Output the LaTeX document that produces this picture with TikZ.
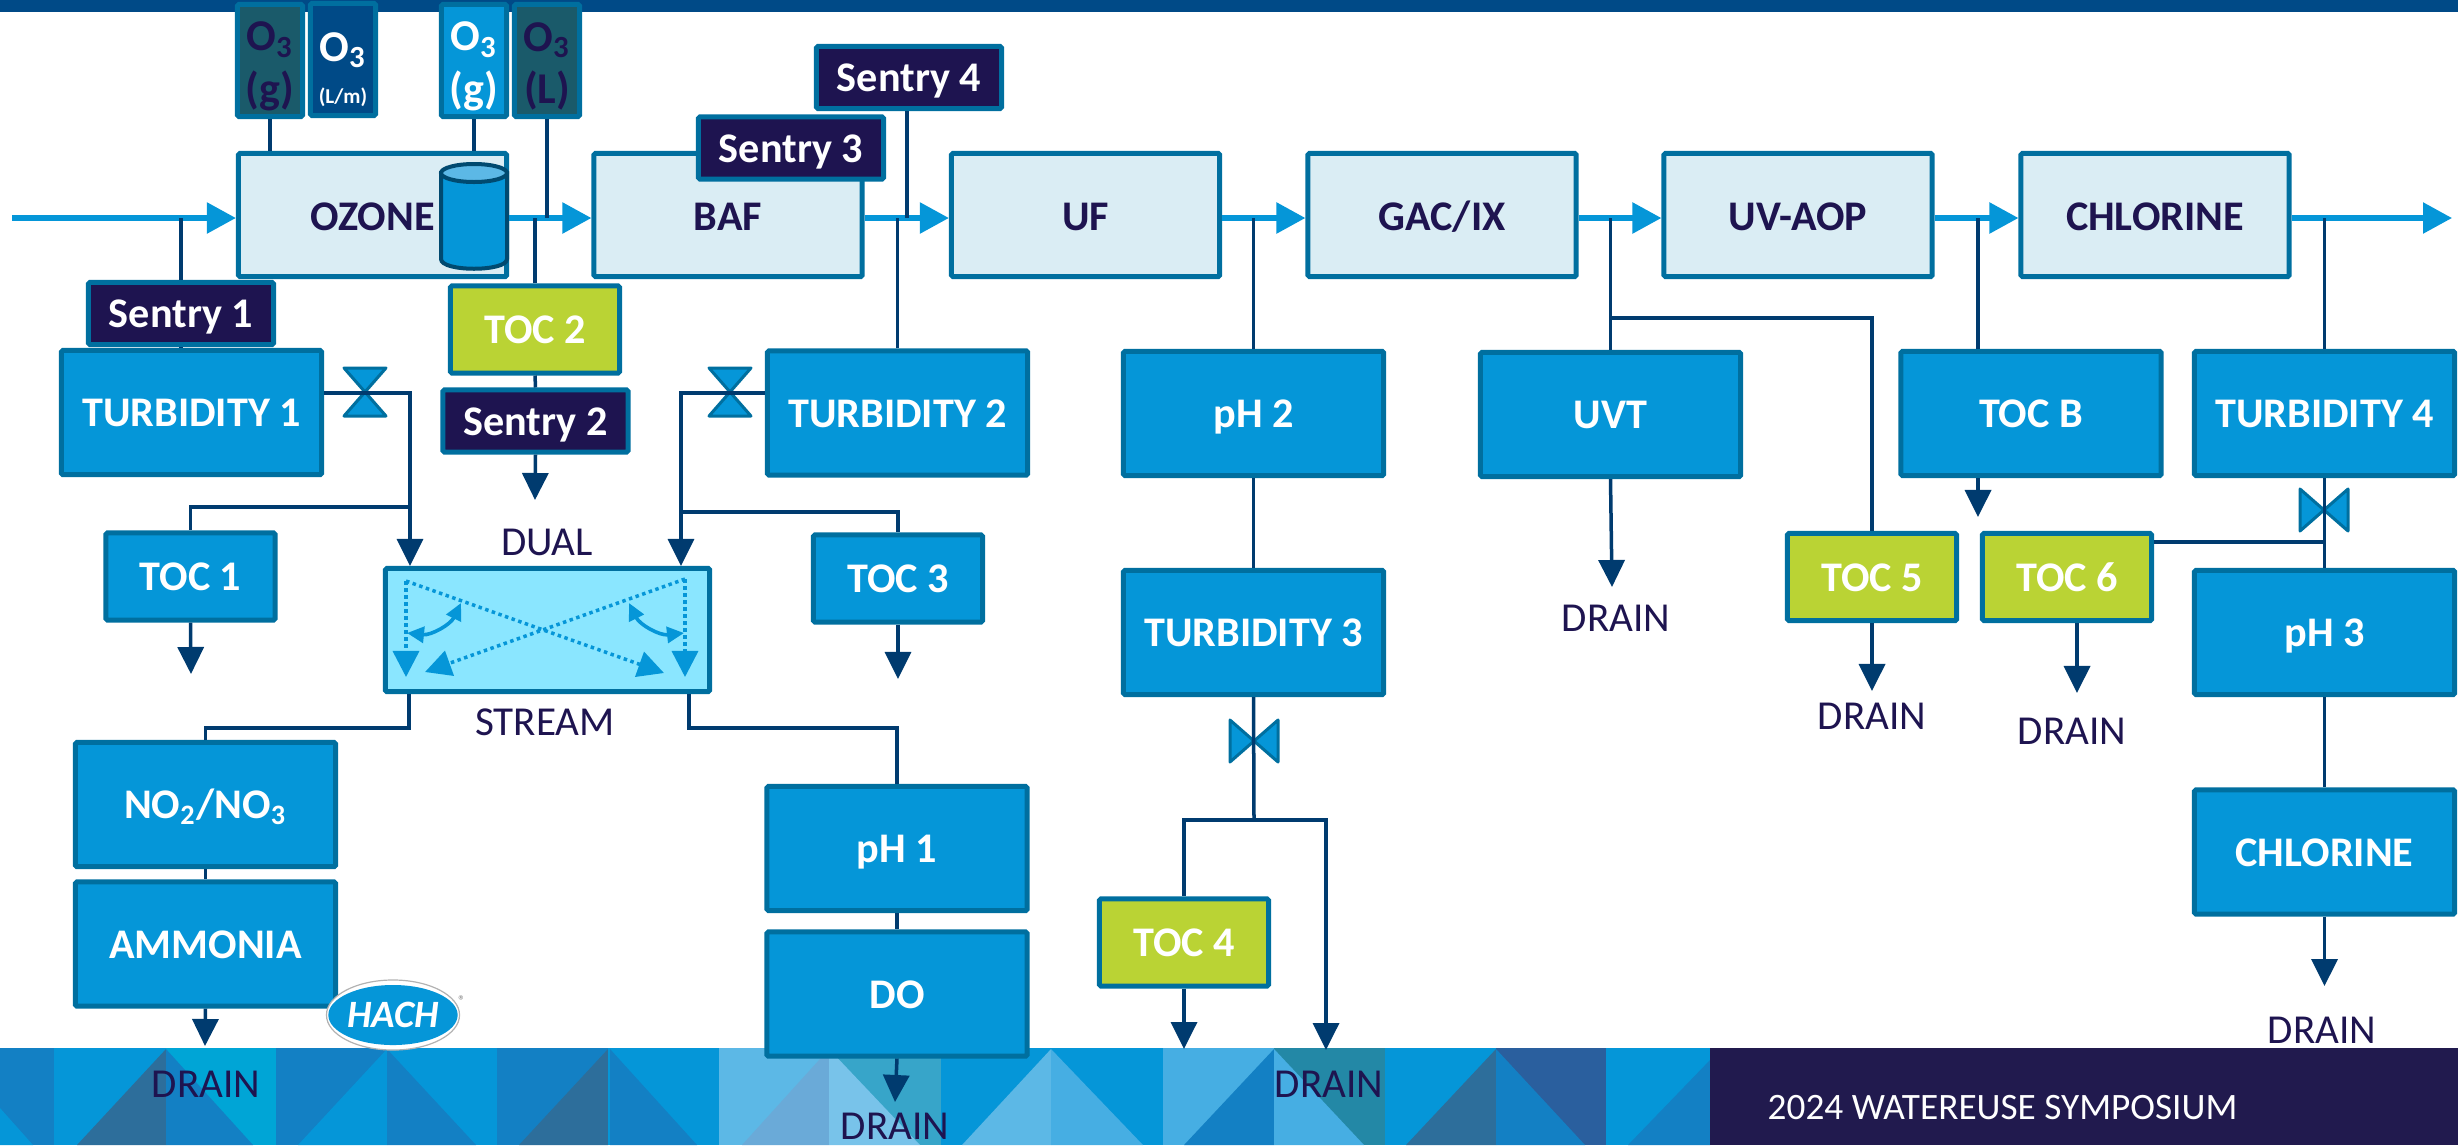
\documentclass[tikz,border=0pt]{standalone}
\usepackage{fontspec}
\setmainfont{Carlito}
\usetikzlibrary{arrows.meta,shapes.geometric}

\definecolor{navy}{HTML}{1E1450}
\definecolor{frame}{HTML}{006F9F}
\definecolor{pipeblue}{HTML}{003B6F}
\definecolor{cyanblue}{HTML}{0596D8}
\definecolor{paleblue}{HTML}{DAEDF4}
\definecolor{skyblue}{HTML}{8AE6FF}
\definecolor{lime}{HTML}{BAD334}
\definecolor{darkteal}{HTML}{1A5A6A}
\definecolor{bandblue}{HTML}{004A87}
\definecolor{midblue}{HTML}{1380C4}
\definecolor{slate}{HTML}{2D6E9B}
\definecolor{aqua}{HTML}{00A5D6}
\definecolor{lightblue}{HTML}{5CB8E6}
\definecolor{hazeblue}{HTML}{6AAAD8}
\definecolor{tealmid}{HTML}{37A5C9}
\definecolor{iceblue}{HTML}{78C3EA}
\definecolor{softblue}{HTML}{46AEE3}
\definecolor{deepteal}{HTML}{2388A6}
\definecolor{steel}{HTML}{2A5F9E}
\definecolor{footerdark}{HTML}{211A4E}
\definecolor{tankline}{HTML}{004A70}

\newcommand{\othree}[1]{\rule{0pt}{11.6pt}O\textsubscript{3}\\#1}

\tikzset{
  anybox/.style={draw=frame, line width=0.05cm, rounded corners=0.4pt, inner sep=0pt, align=center, font=\fontsize{12}{14}\selectfont\bfseries},
  stagebox/.style={anybox, fill=paleblue, text=navy, minimum width=2.68cm, minimum height=1.23cm, text height=8.9pt, text depth=0pt},
  ctrlbox/.style={anybox, fill=cyanblue, text=white, minimum width=2.60cm, minimum height=1.24cm, text height=8pt, text depth=0pt},
  tocbox/.style={ctrlbox, minimum width=1.69cm, minimum height=0.87cm},
  limebox/.style={tocbox, fill=lime},
  sentrybox/.style={anybox, fill=navy, text=white, minimum width=1.85cm, minimum height=0.62cm, text height=8pt, text depth=0pt},
  probebox/.style={anybox, minimum width=0.65cm, minimum height=1.12cm, font=\fontsize{12.5}{15}\selectfont\bfseries},
  label/.style={text=navy, inner sep=0pt, font=\fontsize{11.7}{14}\selectfont},
  pipe/.style={draw=pipeblue, line width=0.035cm},
  pipeend/.style={pipe, -{Triangle[length=0.27cm,width=0.26cm]}},
  flow/.style={draw=cyanblue, line width=0.055cm, -{Triangle[length=0.29cm,width=0.30cm]}},
  dots/.style={draw=cyanblue, line width=0.035cm, dash pattern=on 0.035cm off 0.035cm, -{Triangle[length=0.26cm,width=0.26cm]}},
  swing/.style={draw=cyanblue, line width=0.036cm, {Triangle[length=0.17cm,width=0.16cm]}-{Triangle[length=0.17cm,width=0.16cm]}},
  valve/.pic={\draw[fill=cyanblue, draw=frame, line width=0.03cm, line join=round] (-21,-24) -- (21,-24) -- (-21,24) -- (21,24) -- cycle;}
}

\begin{document}
\begin{tikzpicture}[x=0.01cm, y=-0.01cm]
  \useasboundingbox (0,0) rectangle (2458,1145);
  % footer strip
  \foreach \xa/\xb/\base/\tri/\ax/\bx/\ay in {0/54/midblue/cyanblue/0/33/1108, 54/166/cyanblue/slate/166/77/1049, 166/276/aqua/midblue/166/253/1049, 276/387/midblue/cyanblue/387/298/1049, 387/497/cyanblue/midblue/387/476/1049, 497/608/midblue/slate/608/519/1049, 608/719/cyanblue/midblue/610/697/1049, 719/829/lightblue/hazeblue/829/742/1049, 829/941/tealmid/iceblue/829/920/1049, 941/1051/cyanblue/lightblue/1051/962/1049, 1051/1163/cyanblue/softblue/1051/1143/1049, 1163/1274/softblue/midblue/1274/1184/1049, 1274/1385/deepteal/softblue/1274/1364/1049, 1385/1496/cyanblue/slate/1496/1406/1049, 1496/1606/steel/midblue/1496/1585/1049, 1606/1710/cyanblue/midblue/1710/1628/1060} {
    \fill[\base] (\xa,1048) rectangle (\xb,1145);
    \fill[\tri] (\ax,\ay) -- (\bx,1145) -- (\ax,1145) -- cycle;
  }
  \fill[footerdark] (1710,1048) rectangle (2458,1145);
  \fill[bandblue] (0,0) rectangle (2458,12);
  \node[text=white, inner sep=0pt, anchor=west, font=\fontsize{10.6}{13}\selectfont] (symposium) at (1767,1108) {2024 WATEREUSE SYMPOSIUM};

  % valves under the pipes
  \pic at (365,392) {valve};
  \pic at (730,392) {valve};
  \pic[rotate=90] at (1254,741) {valve};
  \pic[rotate=90] at (2324,510) {valve};
  \coordinate (valvea) at (365,393);
  \coordinate (valveb) at (730,393);

  % process train
  \node[stagebox] (ozone) at (372.5,215) {OZONE};
  \node[stagebox] (baf) at (728,215) {BAF};
  \node[stagebox] (uf) at (1085.5,215) {UF};
  \node[stagebox] (gac) at (1442,215) {GAC/IX};
  \node[stagebox] (uvaop) at (1798,215) {UV-AOP};
  \node[stagebox] (chlor) at (2155,215) {CHLORINE};
  \draw[draw=tankline, fill=cyanblue, line width=0.04cm] (441,173) -- (441,259) .. controls (441,272) and (507,272) .. (507,259) -- (507,173) -- cycle;
  \draw[draw=tankline, fill=lightblue, line width=0.04cm] (474,173) ellipse [x radius=33, y radius=9];

  % ozone probes
  \node[probebox, fill=darkteal, text=navy] (gasa) at (270,60.5) {\othree{(g)}};
  \node[probebox, fill=bandblue, text=white] (flow) at (343,59.5) {\rule{0pt}{14pt}O\textsubscript{3}\\[-3pt]{\fontsize{6}{7}\selectfont (L/m)}};
  \node[probebox, fill=cyanblue, text=white] (gasb) at (474,60.5) {\othree{(g)}};
  \node[probebox, fill=darkteal, text=navy] (liq) at (547,60.5) {\othree{(L)}};

  % analyzers
  \node[sentrybox] (sentrya) at (181,313.5) {Sentry 1};
  \node[ctrlbox] (turba) at (191.5,412.5) {TURBIDITY 1};
  \node[limebox] (tocb2) at (535,329.5) {TOC 2};
  \node[sentrybox] (sentryb) at (535.5,421) {Sentry 2};
  \node[sentrybox] (sentryc) at (791,148) {Sentry 3};
  \node[sentrybox] (sentryd) at (909,77.5) {Sentry 4};
  \node[ctrlbox] (turbb) at (897.5,413) {TURBIDITY 2};
  \node[ctrlbox] (pha) at (1253.5,413.5) {pH 2};
  \node[ctrlbox] (turbc) at (1253.5,632.5) {TURBIDITY 3};
  \node[ctrlbox] (uvt) at (1610.5,414.5) {UVT};
  \node[ctrlbox] (tocb) at (2031,413.5) {TOC B};
  \node[ctrlbox] (turbd) at (2324.5,413.5) {TURBIDITY 4};
  \node[ctrlbox] (phc) at (2324.5,632.5) {pH 3};
  \node[ctrlbox] (chlorb) at (2324.5,852) {CHLORINE};
  \node[ctrlbox] (nox) at (205.5,804.5) {NO\textsubscript{2}/NO\textsubscript{3}};
  \node[ctrlbox] (ammonia) at (205.5,944) {AMMONIA};
  \node[ctrlbox] (phb) at (897,848.5) {pH 1};
  \node[ctrlbox] (dox) at (897,994) {DO};
  \node[tocbox] (toca) at (190.5,576.5) {TOC 1};
  \node[tocbox] (tocc) at (898,578.5) {TOC 3};
  \node[limebox] (tocd) at (1184,942.5) {TOC 4};
  \node[limebox] (toce) at (1872,577) {TOC 5};
  \node[limebox] (tocf) at (2067,577) {TOC 6};

  % dual stream cell
  \node[anybox, fill=skyblue, minimum width=3.24cm, minimum height=1.23cm] (dual) at (547.5,630) {};
  \coordinate (sl) at (406,581); \coordinate (sr) at (685,579);
  \coordinate (el) at (406,677); \coordinate (er) at (685,677);
  \coordinate (xl) at (425,672); \coordinate (xr) at (664,673);
  \coordinate (al) at (461,603); \coordinate (bl) at (407,633);
  \coordinate (ar) at (629,603); \coordinate (br) at (684,633);
  \draw[dots] (sl) -- (el);
  \draw[dots] (sr) -- (er);
  \draw[dots] (sl) -- (xr);
  \draw[dots] (sr) -- (xl);
  \draw[swing] (al) to[bend left=35] (bl);
  \draw[swing] (ar) to[bend right=35] (br);

  \node[label] (duallbl) at (547,542) {DUAL};
  \node[label] (streamlbl) at (545,722) {STREAM};
  \node[label] (draina) at (206,1084) {DRAIN};
  \node[label] (drainb) at (895,1126) {DRAIN};
  \node[label] (drainc) at (1329,1084) {DRAIN};
  \node[label] (draind) at (1616,618) {DRAIN};
  \node[label] (draine) at (1872,716) {DRAIN};
  \node[label] (drainf) at (2072,731) {DRAIN};
  \node[label] (draing) at (2322,1030) {DRAIN};

  % logo
  \node[ellipse, draw=gray!60, fill=white, line width=0.012cm, inner sep=0pt, minimum width=1.33cm, minimum height=0.70cm] (hachring) at (393,1015) {};
  \node[ellipse, fill=cyanblue, inner sep=0pt, minimum width=1.15cm, minimum height=0.60cm, text=white, font=\fontsize{11}{13}\selectfont\bfseries\itshape] (hach) at (393,1015) {HACH};
  \node[text=gray, inner sep=0pt, font=\fontsize{4}{5}\selectfont] (hachmark) at (462,1001) {®};

  % main stream
  \coordinate (inlet) at (12,218);
  \coordinate (outlet) at (2452,218);
  \draw[flow] (inlet) -- (ozone.west |- inlet);
  \foreach \a/\b in {ozone/baf, baf/uf, uf/gac, gac/uvaop, uvaop/chlor} \draw[flow] (\a.east |- inlet) -- (\b.west |- inlet);
  \draw[flow] (chlor.east |- inlet) -- (outlet);

  % probe lines
  \draw[pipe] (gasa.south) -- (gasa.south |- ozone.north);
  \draw[pipe] (gasb.south) -- (gasb.south |- ozone.north);
  \draw[pipe] (liq.south) -- (liq.south |- inlet);
  \coordinate (tapd) at (907,218);
  \draw[pipe] (tapd |- sentryd.south) -- (tapd);
  \draw[pipe] (sentrya.north) -- (sentrya.north |- inlet);
  \draw[pipe] (sentrya.south) -- (sentrya.south |- turba.north);
  \draw[pipe] (tocb2.north) -- (tocb2.north |- inlet);
  \draw[pipe] (tocb2.south) -- (sentryb.north);
  \coordinate (endb) at (535,500);
  \draw[pipeend] (sentryb.south) -- (endb);
  \draw[pipe] (turbb.north) -- (turbb.north |- inlet);

  % samples to the dual stream cell
  \coordinate (dualina) at (410,566);
  \coordinate (dualinb) at (681,566);
  \draw[pipeend] (valvea -| turba.east) -| (dualina);
  \draw[pipeend] (valveb -| turbb.west) -| (dualinb);
  \coordinate (teea) at (410,507);
  \coordinate (teeb) at (681,512);
  \draw[pipe] (teea) -| (toca.north);
  \draw[pipe] (teeb) -| (tocc.north);
  \coordinate (enda) at (191,674);
  \coordinate (endc) at (898,679);
  \draw[pipeend] (toca.south) -- (enda);
  \draw[pipeend] (tocc.south) -- (endc);

  % out of the dual stream cell
  \coordinate (duala) at (409,694);
  \coordinate (dualb) at (689,694);
  \coordinate (bendl) at (205.5,728);
  \coordinate (bendr) at (897,728);
  \draw[pipe] (duala) |- (bendl) -- (nox.north);
  \draw[pipe] (dualb) |- (bendr) -- (phb.north);
  \draw[pipe] (nox.south) -- (ammonia.north);
  \draw[pipe] (phb.south) -- (dox.north);
  \coordinate (endd) at (205,1046);
  \coordinate (ende) at (895,1102);
  \draw[pipeend] (ammonia.south) -- (endd);
  \draw[pipeend] (dox.south) -- (ende);

  % after UF
  \draw[pipe] (pha.north) -- (pha.north |- inlet);
  \draw[pipe] (pha.south) -- (turbc.north);
  \coordinate (teec) at (1254,820);
  \draw[pipe] (turbc.south) -- (teec);
  \coordinate (endf) at (1184,1049);
  \coordinate (endg) at (1326,1050);
  \draw[pipe] (teec) -| (tocd.north);
  \draw[pipeend] (teec) -| (endg);
  \draw[pipeend] (tocd.south) -- (endf);

  % after GAC
  \coordinate (endh) at (1612,587);
  \draw[pipe] (uvt.north) -- (uvt.north |- inlet);
  \draw[pipeend] (uvt.south) -- (endh);
  \coordinate (teed) at (1610,318);
  \draw[pipe] (teed) -| (toce.north);
  \coordinate (endi) at (1872,691);
  \draw[pipeend] (toce.south) -- (endi);

  % after UV
  \coordinate (tapb) at (1978,218);
  \coordinate (endj) at (1978,517);
  \draw[pipe] (tapb) -- (tapb |- tocb.north);
  \draw[pipeend] (tapb |- tocb.south) -- (endj);
  \coordinate (endk) at (2077,693);
  \draw[pipeend] (tocf.south -| endk) -- (endk);
  \draw[pipe] (turbd.north) -- (turbd.north |- inlet);
  \draw[pipe] (turbd.south) -- (phc.north);
  \draw[pipe] (phc.south) -- (chlorb.north);
  \coordinate (teee) at (2324.5,542);
  \draw[pipe] (tocf.east |- teee) -- (teee);
  \coordinate (endl) at (2324.5,986);
  \draw[pipeend] (chlorb.south) -- (endl);
\end{tikzpicture}
\end{document}
